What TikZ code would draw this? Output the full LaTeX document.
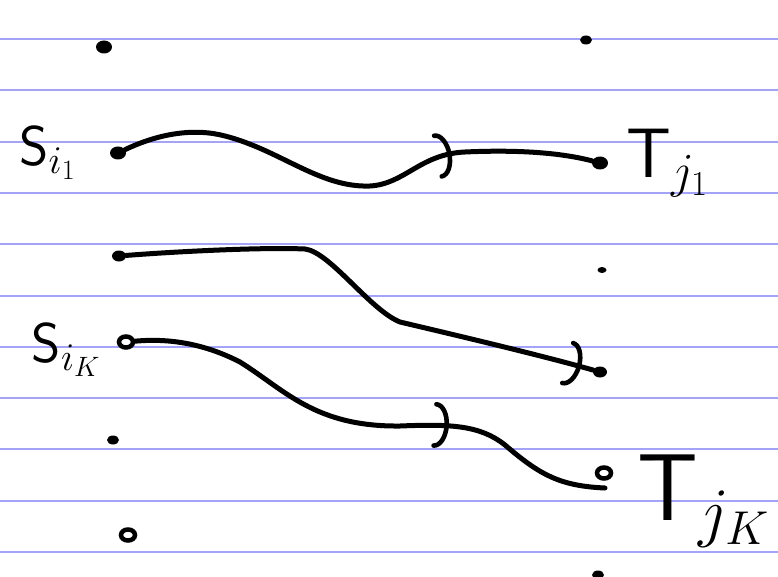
\RequirePackage{fix-cm}
\documentclass[tikz,border=0pt]{standalone}
\usepackage{tikz}
\usetikzlibrary{arrows.meta,positioning,shapes.geometric,decorations.markings}
\definecolor{ruleblue}{HTML}{A3A3F7}
\tikzset{
  inkdot/.style={ellipse,fill=black,inner sep=0pt,minimum width=#1,minimum height=#1-3pt},
  inkdot/.default=16pt,
  inkring/.style={ellipse,draw=black,line width=4.5pt,fill=white,inner sep=0pt,
    minimum width=14pt,minimum height=11pt},
  lbl/.style={inner sep=0pt,font=\fontsize{#1}{#1}\selectfont},
  ink/.style={line width=5pt,line cap=round,line join=round,draw=black},
  barbat/.style={postaction={decorate},decoration={markings,
    mark=at position #1 with {\arrow[line width=4.6pt]{Arc Barb[length=14pt,width=46pt,round]}}}},
  rule/.style={ruleblue,line width=2pt}
}

\begin{document}
\begin{tikzpicture}[x=1pt,y=-1pt]
  \useasboundingbox[fill=white] (0,0) rectangle (778,577);
  \foreach \k in {0,...,10}
    \draw[rule] (0,{39+51.3*\k}) -- (778,{39+51.3*\k});

  \node[inkdot] (s0) at (104,47) {};
  \node[inkdot] (s1) at (118,153) {};
  \node[inkdot=14pt] (s2) at (119,256) {};
  \node[inkring] (s3) at (126,342) {};
  \node[inkdot=12pt] (s4) at (113,440) {};
  \node[inkring] (s5) at (128,535) {};
  \node[inkdot=12pt] (t0) at (586,40) {};
  \node[inkdot] (t1) at (600,163) {};
  \node[inkdot=9pt] (t2) at (602,270) {};
  \node[inkdot=14pt] (t3) at (600,372) {};
  \node[inkring] (t4) at (604,473) {};
  \node[inkdot=12pt] (t5) at (598,575) {};
  \coordinate (e3) at (605,488);

  \node[lbl=56,left=34pt of s1] (si1) {$\mathsf{S}_{i_1}$};
  \node[lbl=56,left=16pt of s3,yshift=-8pt] (siK) {$\mathsf{S}_{i_K}$};
  \node[lbl=70,right=18pt of t1] (tj1) {$\mathsf{T}_{j_1}$};
  \node[lbl=95,right=24pt of t4,yshift=-28pt] (tjK) {$\mathsf{T}_{j_K}$};

  \draw[ink,barbat=0.71] (s1) .. controls (160,133) and (195,128) .. (225,136)
    .. controls (280,150) and (320,188) .. (370,186)
    .. controls (405,184) and (420,154) .. (465,152)
    .. controls (530,149) and (570,155) .. (t1);
  \draw[ink,barbat=0.975] (s2) .. controls (170,252) and (260,247) .. (305,249)
    .. controls (330,252) and (370,310) .. (400,322)
    .. controls (455,335) and (540,355) .. (t3);
  \draw[ink,barbat=0.66] (s3) .. controls (170,338) and (205,344) .. (240,362)
    .. controls (285,390) and (315,427) .. (400,426)
    .. controls (450,424) and (480,425) .. (505,445)
    .. controls (540,475) and (560,486) .. (e3);
\end{tikzpicture}
\end{document}
